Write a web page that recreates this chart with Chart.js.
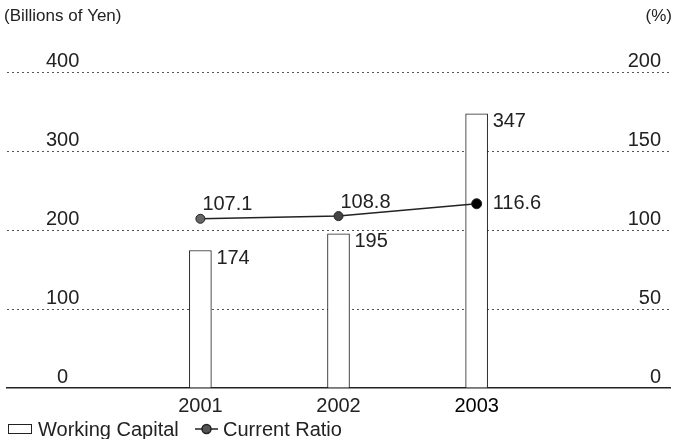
<!DOCTYPE html>
<html>
<head>
<meta charset="utf-8">
<script src="https://cdn.jsdelivr.net/npm/chart.js@4.4.1/dist/chart.umd.min.js"></script>
<style>
  html, body { margin: 0; padding: 0; background: #fff; }
  #chart-container { width: 676px; height: 439px; }
</style>
</head>
<body>
<div id="chart-container"><canvas id="chart" width="676" height="439"></canvas></div>
<script>
// Chart values
const years = [2001, 2002, 2003];
const workingCapital = [174, 195, 347];      // billions of yen (left axis)
const currentRatio = [107.1, 108.8, 116.6];  // percent (right axis)
const leftTicks = [0, 100, 200, 300, 400];
const rightTicks = [0, 50, 100, 150, 200];

const FONT = '"Liberation Sans", Arial, sans-serif';
const INK = '#222';

// Value labels, axis unit captions and the legend row
const annotate = {
  id: 'annotate',
  afterDatasetsDraw(chart) {
    const ctx = chart.ctx;
    ctx.save();
    ctx.font = '20px ' + FONT;
    ctx.fillStyle = INK;
    ctx.textAlign = 'left';
    ctx.textBaseline = 'middle';

    chart.getDatasetMeta(0).data.forEach((bar, i) => {
      ctx.fillText(String(workingCapital[i]), bar.x + bar.width / 2 + 5, bar.y + 8);
    });

    const pts = chart.getDatasetMeta(1).data;
    pts.forEach((pt, i) => {
      const txt = currentRatio[i].toFixed(1);
      if (i < pts.length - 1) {
        ctx.fillText(txt, pt.x + 2, pt.y - 14);
      } else {
        ctx.fillText(txt, pt.x + 16, pt.y);
      }
    });
    ctx.restore();
  },
  afterDraw(chart) {
    const ctx = chart.ctx;
    ctx.save();
    ctx.font = '17px ' + FONT;
    ctx.fillStyle = INK;
    ctx.textBaseline = 'middle';

    // unit captions
    ctx.textAlign = 'left';
    ctx.fillText('(Billions of Yen)', 4, 16);
    ctx.textAlign = 'right';
    ctx.fillText('(%)', 672, 16);

    // legend
    ctx.font = '20px ' + FONT;
    const ly = 430;
    ctx.strokeStyle = INK;
    ctx.lineWidth = 1;
    ctx.strokeRect(8.5, ly - 5.5, 23, 9);
    ctx.textAlign = 'left';
    ctx.fillText(chart.data.datasets[0].label, 38, ly);

    ctx.lineWidth = 1.5;
    ctx.beginPath();
    ctx.moveTo(195, ly - 1);
    ctx.lineTo(218, ly - 1);
    ctx.stroke();
    ctx.beginPath();
    ctx.arc(206.5, ly - 1, 4.5, 0, Math.PI * 2);
    ctx.fillStyle = '#555';
    ctx.fill();
    ctx.stroke();
    ctx.fillStyle = INK;
    ctx.fillText(chart.data.datasets[1].label, 223, ly);
    ctx.restore();
  }
};

const tickFont = { family: FONT, size: 20 };

new Chart(document.getElementById('chart'), {
  type: 'bar',
  data: {
    datasets: [
      {
        type: 'bar',
        label: 'Working Capital',
        data: years.map((y, i) => ({ x: y, y: workingCapital[i] })),
        yAxisID: 'y',
        backgroundColor: '#fff',
        borderColor: INK,
        borderWidth: 1,
        barThickness: 22,
        order: 2
      },
      {
        type: 'line',
        label: 'Current Ratio',
        data: years.map((y, i) => ({ x: y, y: currentRatio[i] })),
        yAxisID: 'y2',
        borderColor: INK,
        borderWidth: 1.5,
        pointRadius: [4.5, 4.5, 5],
        pointBackgroundColor: ['#666', '#444', '#000'],
        pointBorderColor: INK,
        pointBorderWidth: 1,
        order: 1
      }
    ]
  },
  options: {
    responsive: false,
    animation: false,
    events: [],
    layout: { padding: { top: 72, bottom: 27, left: 7, right: 5 } },
    plugins: {
      legend: { display: false },
      tooltip: { enabled: false }
    },
    scales: {
      x: {
        type: 'linear',
        offset: false,
        min: 1999.6,
        max: 2004.4,
        afterBuildTicks: s => { s.ticks = years.map(v => ({ value: v })); },
        afterFit: s => { s.height = 24; },
        grid: { display: false, drawTicks: false, offset: false },
        border: { display: true, color: INK, width: 1.5 },
        ticks: {
          padding: 6,
          font: tickFont,
          color: c => (c.tick && c.tick.value === 2003 ? '#000' : INK),
          maxRotation: 0,
          autoSkip: false,
          callback: v => String(v)
        }
      },
      y: {
        position: 'left',
        min: 0,
        max: 400,
        afterBuildTicks: s => { s.ticks = leftTicks.map(v => ({ value: v })); },
        afterFit: s => { s.width = 0; },
        grid: {
          drawTicks: false,
          lineWidth: 1,
          color: c => (c.tick && c.tick.value === 0 ? 'rgba(0,0,0,0)' : '#555')
        },
        border: { display: false, dash: [2, 3] },
        ticks: {
          mirror: true,
          crossAlign: 'center',
          padding: 39,
          labelOffset: -11,
          font: tickFont,
          color: INK
        }
      },
      y2: {
        position: 'right',
        min: 0,
        max: 200,
        afterBuildTicks: s => { s.ticks = rightTicks.map(v => ({ value: v })); },
        afterFit: s => { s.width = 0; },
        grid: { display: false, drawTicks: false },
        border: { display: false },
        ticks: {
          mirror: true,
          padding: -9,
          labelOffset: -11,
          font: tickFont,
          color: INK
        }
      }
    }
  },
  plugins: [annotate]
});
</script>
</body>
</html>
